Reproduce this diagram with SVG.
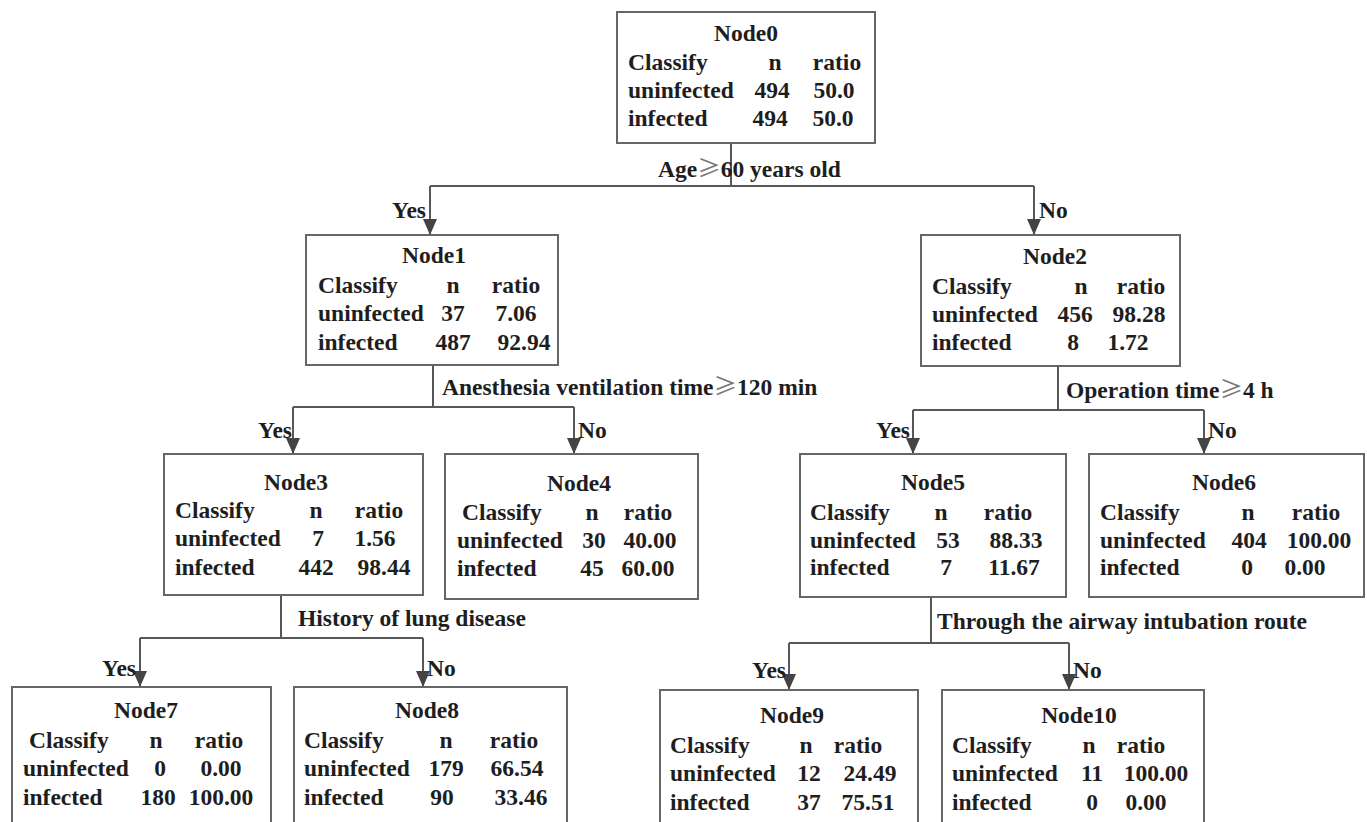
<svg xmlns="http://www.w3.org/2000/svg" width="1367" height="822" viewBox="0 0 1367 822">
<style>
text{font-family:'Liberation Serif','Times New Roman',serif;font-weight:700;font-size:23.5px;fill:#1e1e1e}
.m{text-anchor:middle}
.e{text-anchor:end}
.ge{font-family:'Noto Sans CJK SC','Liberation Serif',serif;font-weight:400;fill:#777}
.box{fill:#fff;stroke:#666;stroke-width:2}
.ln{fill:none;stroke:#585858;stroke-width:2}
</style>
<defs>
<marker id="ah" markerUnits="userSpaceOnUse" markerWidth="16" markerHeight="14" refX="16" refY="7" orient="auto">
<path d="M0,0 L16,7 L0,14 z" fill="#444"/>
</marker>
</defs>
<rect width="1367" height="822" fill="#fff"/>
<g id="connectors">
<path class="ln" d="M731,143 V186 M430,186 H1034"/>
<path class="ln" d="M430,186 V235" marker-end="url(#ah)"/>
<path class="ln" d="M1034,186 V235" marker-end="url(#ah)"/>
<path class="ln" d="M433,365 V407 M293,407 H574"/>
<path class="ln" d="M293,407 V454" marker-end="url(#ah)"/>
<path class="ln" d="M574,407 V454" marker-end="url(#ah)"/>
<path class="ln" d="M1058,366 V410 M913,410 H1204"/>
<path class="ln" d="M913,410 V454" marker-end="url(#ah)"/>
<path class="ln" d="M1204,410 V454" marker-end="url(#ah)"/>
<path class="ln" d="M281,595 V638 M140,638 H423"/>
<path class="ln" d="M140,638 V687" marker-end="url(#ah)"/>
<path class="ln" d="M423,638 V687" marker-end="url(#ah)"/>
<path class="ln" d="M931,597 V643 M789,643 H1069"/>
<path class="ln" d="M789,643 V690" marker-end="url(#ah)"/>
<path class="ln" d="M1069,643 V690" marker-end="url(#ah)"/>
<text x="658" y="177">Age<tspan class="ge">≥</tspan>60 years old</text>
<text class="e" x="426" y="218">Yes</text>
<text x="1039" y="218">No</text>
<text x="442" y="395">Anesthesia ventilation time<tspan class="ge">≥</tspan>120 min</text>
<text class="e" x="292" y="438">Yes</text>
<text x="578" y="438">No</text>
<text x="1066" y="398">Operation time<tspan class="ge">≥</tspan>4 h</text>
<text class="e" x="910" y="438">Yes</text>
<text x="1208" y="438">No</text>
<text x="298" y="626">History of lung disease</text>
<text class="e" x="136" y="676">Yes</text>
<text x="427" y="676">No</text>
<text x="937" y="629">Through the airway intubation route</text>
<text class="e" x="786" y="678">Yes</text>
<text x="1073" y="678">No</text>
</g>
<g id="node0">
<rect class="box" x="617" y="12" width="258" height="131"/>
<text class="m" x="746" y="41">Node0</text>
<text x="628" y="70">Classify</text><text class="m" x="775" y="70">n</text><text class="m" x="837" y="70">ratio</text>
<text x="628" y="98">uninfected</text><text class="m" x="772" y="98">494</text><text class="m" x="834" y="98">50.0</text>
<text x="628" y="126">infected</text><text class="m" x="770" y="126">494</text><text class="m" x="833" y="126">50.0</text>
</g>
<g id="node1">
<rect class="box" x="306" y="235" width="252" height="130"/>
<text class="m" x="434" y="263">Node1</text>
<text x="318" y="293">Classify</text><text class="m" x="453" y="293">n</text><text class="m" x="516" y="293">ratio</text>
<text x="318" y="321">uninfected</text><text class="m" x="453" y="321">37</text><text class="m" x="516" y="321">7.06</text>
<text x="318" y="350">infected</text><text class="m" x="453" y="350">487</text><text class="m" x="524" y="350">92.94</text>
</g>
<g id="node2">
<rect class="box" x="921" y="235" width="259" height="131"/>
<text class="m" x="1055" y="264">Node2</text>
<text x="932" y="294">Classify</text><text class="m" x="1081" y="294">n</text><text class="m" x="1141" y="294">ratio</text>
<text x="932" y="322">uninfected</text><text class="m" x="1075" y="322">456</text><text class="m" x="1139" y="322">98.28</text>
<text x="932" y="350">infected</text><text class="m" x="1073" y="350">8</text><text class="m" x="1128" y="350">1.72</text>
</g>
<g id="node3">
<rect class="box" x="164" y="454" width="259" height="141"/>
<text class="m" x="296" y="490">Node3</text>
<text x="175" y="518">Classify</text><text class="m" x="316" y="518">n</text><text class="m" x="379" y="518">ratio</text>
<text x="175" y="546">uninfected</text><text class="m" x="318" y="546">7</text><text class="m" x="375" y="546">1.56</text>
<text x="175" y="575">infected</text><text class="m" x="316" y="575">442</text><text class="m" x="384" y="575">98.44</text>
</g>
<g id="node4">
<rect class="box" x="445" y="454" width="253" height="145"/>
<text class="m" x="579" y="491">Node4</text>
<text x="462" y="520">Classify</text><text class="m" x="592" y="520">n</text><text class="m" x="648" y="520">ratio</text>
<text x="457" y="548">uninfected</text><text class="m" x="594" y="548">30</text><text class="m" x="650" y="548">40.00</text>
<text x="457" y="576">infected</text><text class="m" x="592" y="576">45</text><text class="m" x="648" y="576">60.00</text>
</g>
<g id="node5">
<rect class="box" x="800" y="454" width="266" height="143"/>
<text class="m" x="933" y="490">Node5</text>
<text x="810" y="520">Classify</text><text class="m" x="941" y="520">n</text><text class="m" x="1008" y="520">ratio</text>
<text x="810" y="548">uninfected</text><text class="m" x="948" y="548">53</text><text class="m" x="1016" y="548">88.33</text>
<text x="810" y="575">infected</text><text class="m" x="946" y="575">7</text><text class="m" x="1014" y="575">11.67</text>
</g>
<g id="node6">
<rect class="box" x="1089" y="454" width="275" height="143"/>
<text class="m" x="1224" y="490">Node6</text>
<text x="1100" y="520">Classify</text><text class="m" x="1248" y="520">n</text><text class="m" x="1316" y="520">ratio</text>
<text x="1100" y="548">uninfected</text><text class="m" x="1249" y="548">404</text><text class="m" x="1319" y="548">100.00</text>
<text x="1100" y="575">infected</text><text class="m" x="1247" y="575">0</text><text class="m" x="1305" y="575">0.00</text>
</g>
<g id="node7">
<rect class="box" x="12" y="687" width="259" height="150"/>
<text class="m" x="146" y="718">Node7</text>
<text x="29" y="748">Classify</text><text class="m" x="156" y="748">n</text><text class="m" x="219" y="748">ratio</text>
<text x="23" y="776">uninfected</text><text class="m" x="160" y="776">0</text><text class="m" x="221" y="776">0.00</text>
<text x="23" y="805">infected</text><text class="m" x="158" y="805">180</text><text class="m" x="221" y="805">100.00</text>
</g>
<g id="node8">
<rect class="box" x="294" y="687" width="273" height="150"/>
<text class="m" x="427" y="718">Node8</text>
<text x="304" y="748">Classify</text><text class="m" x="446" y="748">n</text><text class="m" x="514" y="748">ratio</text>
<text x="304" y="776">uninfected</text><text class="m" x="446" y="776">179</text><text class="m" x="517" y="776">66.54</text>
<text x="304" y="805">infected</text><text class="m" x="442" y="805">90</text><text class="m" x="521" y="805">33.46</text>
</g>
<g id="node9">
<rect class="box" x="660" y="690" width="258" height="150"/>
<text class="m" x="792" y="723">Node9</text>
<text x="670" y="753">Classify</text><text class="m" x="806" y="753">n</text><text class="m" x="858" y="753">ratio</text>
<text x="670" y="781">uninfected</text><text class="m" x="809" y="781">12</text><text class="m" x="870" y="781">24.49</text>
<text x="670" y="810">infected</text><text class="m" x="809" y="810">37</text><text class="m" x="868" y="810">75.51</text>
</g>
<g id="node10">
<rect class="box" x="942" y="690" width="262" height="150"/>
<text class="m" x="1079" y="723">Node10</text>
<text x="952" y="753">Classify</text><text class="m" x="1089" y="753">n</text><text class="m" x="1141" y="753">ratio</text>
<text x="952" y="781">uninfected</text><text class="m" x="1092" y="781">11</text><text class="m" x="1156" y="781">100.00</text>
<text x="952" y="810">infected</text><text class="m" x="1092" y="810">0</text><text class="m" x="1146" y="810">0.00</text>
</g>
</svg>
